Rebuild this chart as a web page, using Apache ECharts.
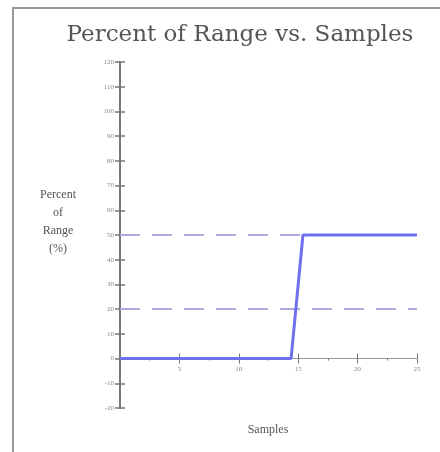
<!DOCTYPE html>
<html><head><meta charset="utf-8">
<script src="https://cdn.jsdelivr.net/npm/echarts@6/dist/echarts.min.js"></script>
<style>
html,body{margin:0;padding:0;background:#fff;}
#frame{position:absolute;left:12px;top:7px;width:440px;height:460px;border-left:2px solid #9a9a9a;border-top:2px solid #9a9a9a;}
#c{position:absolute;left:0;top:0;width:440px;height:452px;}
</style></head>
<body><div id="frame"></div><div id="c"></div>
<script>
var samples = [0, 14.4, 15.4, 25];
var percent = [0, 0, 50, 50];
var limitHigh = 50;
var limitLow = 20;
var yMin = -20, yMax = 120, yStep = 10;
var xMin = 0, xMax = 25, xStep = 5;

var chart = echarts.init(document.getElementById('c'));
var lineData = samples.map(function(s, i){ return [s, percent[i]]; });
var axisCol = '#777';
var gridTop = 62, gridBottom = 44;
function xAxes(off){
  return [
    {type:'value', position:'bottom', min:xMin, max:xMax, interval:xStep, offset:off,
     axisLine:{onZero:false, lineStyle:{color:'#999', width:1}},
     axisTick:{show:true, length:5, lineStyle:{color:axisCol, width:1}},
     minorTick:{show:true, splitNumber:2, length:2, lineStyle:{color:axisCol}},
     axisLabel:{show:true, margin:7, formatter:function(v){return v===0?'':v;}, color:'#888', fontSize:7, fontFamily:'Liberation Serif'},
     splitLine:{show:false}},
    {type:'value', position:'bottom', min:xMin, max:xMax, interval:xStep, offset:off,
     axisLine:{onZero:false, show:false},
     axisTick:{show:true, inside:true, length:5, lineStyle:{color:axisCol, width:1}},
     axisLabel:{show:false}, splitLine:{show:false}}
  ];
}
chart.setOption({
  animation:false,
  title:{text:'Percent of Range vs. Samples', left:235, top:19, textAlign:'center',
    textStyle:{fontFamily:'DejaVu Serif', fontSize:23, fontWeight:'normal', color:'#555'}},
  grid:{left:120, right:23, top:gridTop, bottom:gridBottom},
  graphic:[
    {type:'text', x:58, y:186, style:{text:'Percent\nof\nRange\n(%)', align:'center', fill:'#555', font:'12px "Liberation Serif"', lineHeight:18}},
    {type:'text', x:268, y:424, style:{text:'Samples', align:'center', fill:'#555', font:'12px "Liberation Serif"'}}
  ],
  xAxis:xAxes(0),
  yAxis:[
    {type:'value', min:yMin, max:yMax, interval:yStep,
     axisLine:{show:true, onZero:false, lineStyle:{color:axisCol, width:2}},
     axisTick:{show:true, length:5, lineStyle:{color:axisCol, width:1.5}},
     axisLabel:{show:true, margin:6, color:'#888', fontSize:7, fontFamily:'Liberation Serif'},
     splitLine:{show:false}},
    {type:'value', min:yMin, max:yMax, interval:yStep, position:'left',
     axisLine:{show:false, onZero:false},
     axisTick:{show:true, inside:true, length:5, lineStyle:{color:axisCol, width:1.5}},
     axisLabel:{show:false}, splitLine:{show:false}}
  ],
  series:[
    {type:'line', data:lineData, showSymbol:false, lineStyle:{color:'#7070ee', width:3}, z:5,
     markLine:{silent:true, symbol:'none', label:{show:false},
       lineStyle:{color:'#acacdf', type:[20,12], width:2},
       data:[{yAxis:limitHigh},{yAxis:limitLow}]}}
  ]
});
// place x axis on y = 0
var zeroPx = chart.convertToPixel({yAxisIndex:0}, 0);
var bottomPx = chart.getHeight() - gridBottom;
chart.setOption({xAxis:xAxes(zeroPx - bottomPx)});
</script></body></html>
